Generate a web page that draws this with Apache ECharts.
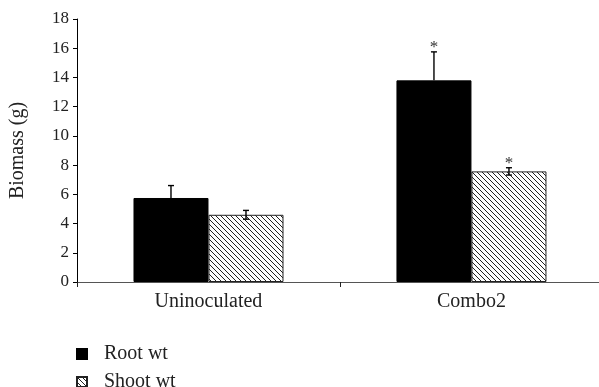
<!DOCTYPE html>
<html>
<head>
<meta charset="utf-8">
<script src="https://cdn.jsdelivr.net/npm/echarts@6/dist/echarts.min.js"></script>
<style>
  html, body { margin: 0; padding: 0; background: #fff; }
  #chart { width: 599px; height: 387px; }
</style>
</head>
<body>
<div id="chart"></div>
<script>
const categories = ['Uninoculated', 'Combo2'];
const rootWt = [5.75, 13.8];
const rootErr = [0.85, 1.95];
const shootWt = [4.6, 7.57];
const shootErr = [0.3, 0.25];
const rootSig = ['', '*'];
const shootSig = ['', '*'];
const yTicks = { min: 0, max: 18, interval: 2 };

const FONT = '"Liberation Serif", "DejaVu Serif", serif';
const BAR_W = 75;

// diagonal hatch for the shoot bars
function hatch() {
  const c = document.createElement('canvas');
  c.width = 5; c.height = 5;
  const g = c.getContext('2d');
  g.fillStyle = '#fff';
  g.fillRect(0, 0, 5, 5);
  g.strokeStyle = '#222';
  g.lineWidth = 1;
  g.beginPath();
  g.moveTo(-1, -1); g.lineTo(6, 6);
  g.moveTo(-1, 4); g.lineTo(1, 6);
  g.moveTo(4, -1); g.lineTo(6, 1);
  g.stroke();
  return c;
}

const chart = echarts.init(document.getElementById('chart'), null, { renderer: 'canvas' });

function errorSeries(name, values, errs, sigs, offset, both) {
  return {
    name: name + ' err',
    type: 'custom',
    silent: true,
    z: 10,
    data: values.map((v, i) => [i, v, errs[i]]),
    renderItem: function (params, api) {
      const i = api.value(0);
      const v = api.value(1);
      const e = api.value(2);
      const s = sigs[i];
      const base = api.coord([i, v]);
      const x = base[0] + offset;
      const top = api.coord([i, v + e])[1];
      const bot = both ? api.coord([i, v - e])[1] : base[1];
      const cap = 3;
      const style = { stroke: '#000', lineWidth: 1.4 };
      const children = [
        { type: 'line', shape: { x1: x, y1: top, x2: x, y2: bot }, style: style },
        { type: 'line', shape: { x1: x - cap, y1: top, x2: x + cap, y2: top }, style: style }
      ];
      if (both) {
        children.push({ type: 'line', shape: { x1: x - cap, y1: bot, x2: x + cap, y2: bot }, style: style });
      }
      if (s) {
        children.push({
          type: 'text',
          style: {
            text: s, x: x, y: top + 4,
            align: 'center', verticalAlign: 'bottom',
            font: '17px ' + FONT, fill: '#333'
          }
        });
      }
      return { type: 'group', children: children };
    }
  };
}

function legendAt(name, top) {
  return {
    orient: 'vertical',
    left: 71, top: top,
    itemWidth: 10, itemHeight: 10,
    icon: 'rect',
    data: [name],
    textStyle: { fontFamily: FONT, fontSize: 20, lineHeight: 20, color: '#222', padding: [0, 0, 0, 12] }
  };
}

const option = {
  animation: false,
  backgroundColor: '#fff',
  grid: { left: 77, top: 19, right: 0, height: 263, containLabel: false },
  legend: [legendAt('Root wt', 339), legendAt('Shoot wt', 367)],
  // category slots placed on a numeric axis so the second group can run past the right edge
  xAxis: {
    type: 'value',
    min: -0.5, max: 1.485,
    splitLine: { show: false },
    axisLine: { lineStyle: { color: '#555', width: 1 } },
    axisTick: { show: true, length: 5, customValues: [-0.5, 0.5], lineStyle: { color: '#222' } },
    axisLabel: {
      margin: 10, fontFamily: FONT, fontSize: 20, color: '#222',
      customValues: [0, 1],
      formatter: (v) => categories[Math.round(v)]
    }
  },
  yAxis: {
    type: 'value',
    min: yTicks.min, max: yTicks.max, interval: yTicks.interval,
    name: 'Biomass (g)',
    nameLocation: 'middle',
    nameGap: 49,
    nameTextStyle: { fontFamily: FONT, fontSize: 20, color: '#222' },
    axisLine: { show: true, onZero: false, lineStyle: { color: '#000', width: 1 } },
    axisTick: { show: true, length: 4, lineStyle: { color: '#000' } },
    axisLabel: { margin: 8, fontFamily: FONT, fontSize: 17, color: '#222' },
    splitLine: { show: false }
  },
  series: [
    {
      name: 'Root wt', type: 'bar', data: rootWt.map((v, i) => [i, v]),
      barWidth: BAR_W, barGap: '0%',
      itemStyle: { color: '#000', borderColor: '#000', borderWidth: 1 }
    },
    {
      name: 'Shoot wt', type: 'bar', data: shootWt.map((v, i) => [i, v]),
      barWidth: BAR_W, barGap: '0%',
      itemStyle: {
        color: { image: hatch(), repeat: 'repeat' },
        borderColor: '#222', borderWidth: 1
      }
    },
    errorSeries('Root wt', rootWt, rootErr, rootSig, -BAR_W / 2, false),
    errorSeries('Shoot wt', shootWt, shootErr, shootSig, BAR_W / 2, true)
  ]
};

chart.setOption(option);
</script>
</body>
</html>
